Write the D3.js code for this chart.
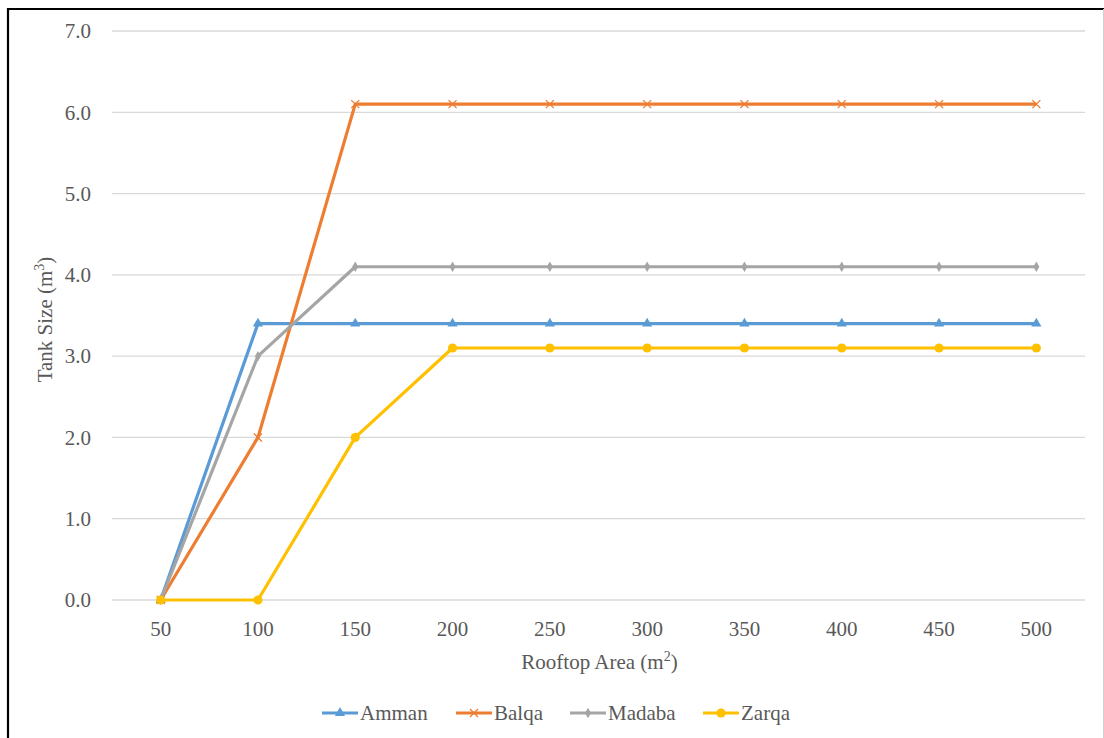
<!DOCTYPE html>
<html>
<head>
<meta charset="utf-8">
<script src="https://cdn.jsdelivr.net/npm/d3@7"></script>
<style>
  html, body { margin: 0; padding: 0; background: #fff; }
  svg { display: block; }
</style>
</head>
<body>
<svg id="chart" width="1104" height="738"></svg>
<script>
// Rooftop area categories (m²)
const areas = [50, 100, 150, 200, 250, 300, 350, 400, 450, 500];
// Required tank size (m³) per governorate
const amman  = [0, 3.4, 3.4, 3.4, 3.4, 3.4, 3.4, 3.4, 3.4, 3.4];
const balqa  = [0, 2.0, 6.1, 6.1, 6.1, 6.1, 6.1, 6.1, 6.1, 6.1];
const madaba = [0, 3.0, 4.1, 4.1, 4.1, 4.1, 4.1, 4.1, 4.1, 4.1];
const zarqa  = [0, 0, 2.0, 3.1, 3.1, 3.1, 3.1, 3.1, 3.1, 3.1];
const yTicks = [0, 1, 2, 3, 4, 5, 6, 7];

const series = [
  { name: "Amman",  values: amman,  color: "#5b9bd5", marker: "triangle" },
  { name: "Balqa",  values: balqa,  color: "#ed7d31", marker: "cross" },
  { name: "Madaba", values: madaba, color: "#a5a5a5", marker: "diamond" },
  { name: "Zarqa",  values: zarqa,  color: "#ffc000", marker: "circle" }
];

const FONT = "'Liberation Serif', Tinos, 'Times New Roman', 'DejaVu Serif', serif";
const TXT = "#595959";
const FS = 21;

const svg = d3.select("#chart");
const plot = { left: 112, right: 1085, top: 31, bottom: 600 };

function styleText(sel, size) {
  return sel.attr("font-family", FONT).style("font-family", FONT)
    .style("font-size", size + "px").attr("fill", TXT);
}

// frame
svg.append("line").attr("x1", 8).attr("x2", 1104).attr("y1", 9).attr("y2", 9)
  .attr("stroke", "#000").attr("stroke-width", 2.2);
svg.append("line").attr("x1", 8).attr("x2", 8).attr("y1", 8).attr("y2", 738)
  .attr("stroke", "#000").attr("stroke-width", 2.2);
svg.append("line").attr("x1", 1103.5).attr("x2", 1103.5).attr("y1", 9).attr("y2", 738)
  .attr("stroke", "#d0d0d0").attr("stroke-width", 1);

const x = d3.scaleBand().domain(areas).range([plot.left, plot.right]);
const y = d3.scaleLinear().domain([0, 7]).range([plot.bottom, plot.top]);
const cx = d => x(d) + x.bandwidth() / 2;

// gridlines
svg.append("g").selectAll("line").data(yTicks).join("line")
  .attr("x1", plot.left).attr("x2", plot.right)
  .attr("y1", d => y(d)).attr("y2", d => y(d))
  .attr("stroke", "#d9d9d9").attr("stroke-width", 1.3);

// y axis labels
const yAxis = svg.append("g").attr("transform", `translate(${plot.left},0)`)
  .call(d3.axisLeft(y).tickValues(yTicks).tickFormat(d3.format(".1f")).tickSize(0).tickPadding(21));
yAxis.select(".domain").remove();
yAxis.attr("font-family", FONT);
styleText(yAxis.selectAll("text"), FS);

// x axis labels
const xAxis = svg.append("g").attr("transform", `translate(0,${plot.bottom})`)
  .call(d3.axisBottom(x).tickSize(0).tickPadding(21));
xAxis.select(".domain").remove();
xAxis.attr("font-family", FONT);
styleText(xAxis.selectAll("text"), FS);

// axis titles
const xt = styleText(svg.append("text"), FS).attr("x", (plot.left + plot.right) / 2 + 1).attr("y", 669)
  .attr("text-anchor", "middle");
xt.append("tspan").text("Rooftop Area (m");
xt.append("tspan").text("2").attr("dy", -8).style("font-size", "14px");
xt.append("tspan").text(")").attr("dy", 8);

const yt = styleText(svg.append("text"), FS)
  .attr("transform", `translate(52,${(plot.top + plot.bottom) / 2 + 4}) rotate(-90)`)
  .attr("text-anchor", "middle");
yt.append("tspan").text("Tank Size (m");
yt.append("tspan").text("3").attr("dy", -8).style("font-size", "14px");
yt.append("tspan").text(")").attr("dy", 8);

// marker drawing
function drawMarker(g, type, color, px, py) {
  if (type === "triangle") {
    g.append("path").attr("d", d3.symbol(d3.symbolTriangle, 45)())
      .attr("transform", `translate(${px},${py})`).attr("fill", color);
  } else if (type === "cross") {
    const r = 4;
    g.append("path").attr("d", `M${px - r},${py - r}L${px + r},${py + r}M${px - r},${py + r}L${px + r},${py - r}`)
      .attr("stroke", color).attr("stroke-width", 1.3).attr("fill", "none");
  } else if (type === "diamond") {
    g.append("path").attr("d", d3.symbol(d3.symbolDiamond, 32)())
      .attr("transform", `translate(${px},${py})`).attr("fill", color);
  } else {
    g.append("circle").attr("cx", px).attr("cy", py).attr("r", 4.6).attr("fill", color);
  }
}

const line = d3.line().x((d, i) => cx(areas[i])).y(d => y(d));

series.forEach(s => {
  const g = svg.append("g");
  g.append("path").datum(s.values).attr("d", line)
    .attr("fill", "none").attr("stroke", s.color).attr("stroke-width", 3.2)
    .attr("stroke-linejoin", "round");
  s.values.forEach((v, i) => drawMarker(g, s.marker, s.color, cx(areas[i]), y(v)));
});

// legend
const legendX = [322, 456, 570, 703];
const ly = 713;
series.forEach((s, i) => {
  const lx = legendX[i];
  const g = svg.append("g");
  g.append("line").attr("x1", lx).attr("x2", lx + 36).attr("y1", ly).attr("y2", ly)
    .attr("stroke", s.color).attr("stroke-width", 3.2);
  drawMarker(g, s.marker, s.color, lx + 18, ly);
  styleText(g.append("text"), FS).attr("x", lx + 38).attr("y", ly + 7).text(s.name);
});
</script>
</body>
</html>
